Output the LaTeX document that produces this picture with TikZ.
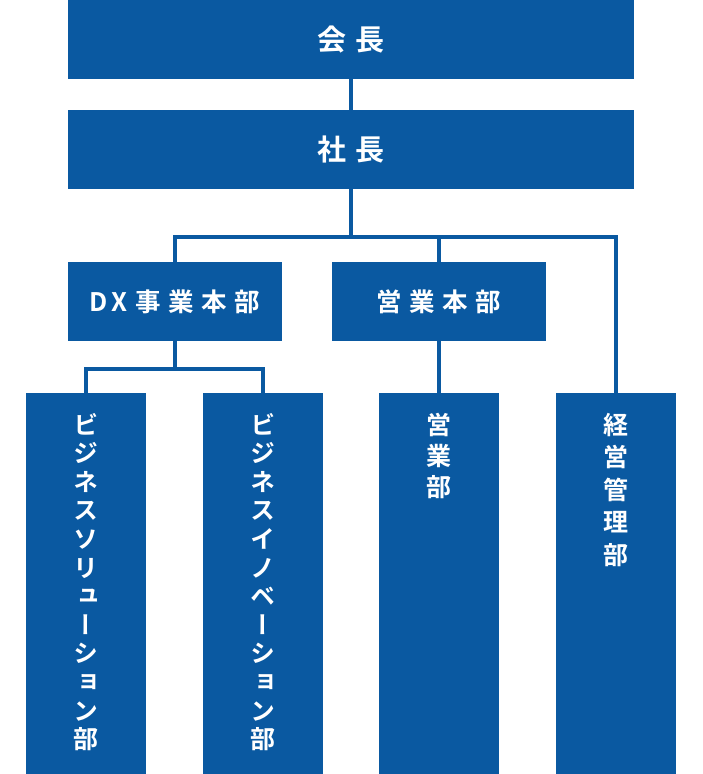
\documentclass[tikz,border=0pt]{standalone}
\usepackage{fontspec}
\usetikzlibrary{positioning}
\newfontfamily\jp{Noto Sans CJK JP Bold}[LetterSpace=30]
\newfontfamily\jpv{Noto Sans CJK JP Bold}[RawFeature=+vert]
\definecolor{orgblue}{RGB}{10,89,161}

\begin{document}
\begin{tikzpicture}[x=1pt,y=-1pt,
  box/.style={fill=orgblue,text=white,inner sep=0pt},
  wide/.style={box,minimum width=566pt,minimum height=79pt,font=\jp\fontsize{29}{32}\selectfont},
  head/.style={box,minimum width=214pt,minimum height=79pt,font=\jp\fontsize{25.5}{28}\selectfont},
  dept/.style={box,minimum width=120pt,minimum height=381pt},
  vtext/.style={text=white,align=center,inner sep=0pt},
  link/.style={draw=orgblue,line width=3.5pt}]
\useasboundingbox (0,0) rectangle (702,774);
% top of the chart
\node[wide] (kaicho) at (351,39.5) {会長};
\node[wide] (shacho) at (351,149.5) {社長};
% divisions
\node[head] (dx) at (175,301.5) {D\kern3.5pt X事業本部};
\node[head] (eigyo) at (439,301.5) {営業本部};
% departments
\node[dept] (sol) at (86,583.5) {};
\node[dept] (inno) at (263,583.5) {};
\node[dept] (sales) at (439,583.5) {};
\node[dept] (kanri) at (616,583.5) {};
\node[vtext,font=\jpv\fontsize{25}{28.6}\selectfont,below=20pt of sol.north] (soltxt)
  {ビ\\ジ\\ネ\\ス\\ソ\\リ\\ュ\\ー\\シ\\ョ\\ン\\部};
\node[vtext,font=\jpv\fontsize{25}{28.6}\selectfont,below=20pt of inno.north] (innotxt)
  {ビ\\ジ\\ネ\\ス\\イ\\ノ\\ベ\\ー\\シ\\ョ\\ン\\部};
\node[vtext,font=\jpv\fontsize{25}{31}\selectfont,below=20pt of sales.north] (salestxt)
  {営\\業\\部};
\node[vtext,font=\jpv\fontsize{25}{32.5}\selectfont,below=20pt of kanri.north] (kanritxt)
  {経\\営\\管\\理\\部};
% connectors
\coordinate (bus) at (351,237);
\coordinate (dxbus) at (175,369);
\draw[link] (kaicho) -- (shacho);
\draw[link] (shacho) -- (bus);
\draw[link] (dx.north) |- (bus) -| (kanri.north);
\draw[link] (eigyo.north) -- (eigyo.north |- bus);
\draw[link] (dx) -- (dxbus);
\draw[link] (sol.north) |- (dxbus) -| (inno.north);
\draw[link] (eigyo) -- (sales);
\end{tikzpicture}
\end{document}
